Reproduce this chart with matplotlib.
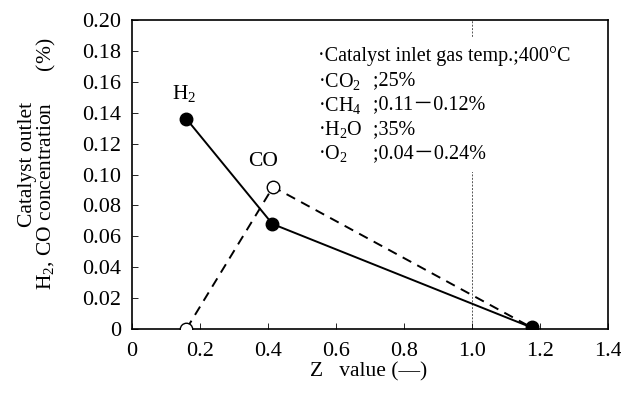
import matplotlib
matplotlib.use("Agg")
import matplotlib.pyplot as plt
from matplotlib.patches import Rectangle

plt.rcParams["font.family"] = ["Liberation Serif", "Noto Sans CJK JP"]
plt.rcParams["mathtext.fontset"] = "custom"
plt.rcParams["mathtext.rm"] = "Liberation Serif"
plt.rcParams["mathtext.it"] = "Liberation Serif:italic"

# Measured outlet concentrations vs. Z value
h2_z = [0.16, 0.413, 1.175]
h2_conc = [0.136, 0.068, 0.001]
co_z = [0.16, 0.415, 1.175]
co_conc = [0.0, 0.092, 0.001]

x_ticks = [0, 0.2, 0.4, 0.6, 0.8, 1.0, 1.2, 1.4]
x_tick_labels = ["0", "0.2", "0.4", "0.6", "0.8", "1.0", "1.2", "1.4"]
y_ticks = [0, 0.02, 0.04, 0.06, 0.08, 0.10, 0.12, 0.14, 0.16, 0.18, 0.20]
y_tick_labels = ["0", "0.02", "0.04", "0.06", "0.08", "0.10", "0.12",
                 "0.14", "0.16", "0.18", "0.20"]
z_reference = 1.0

cond_title = "\u00b7Catalyst inlet gas temp.;400°C"
cond_labels = ["\u00b7CO$_2$", "\u00b7CH$_4$", "\u00b7H$_2$O", "\u00b7O$_2$"]
cond_values = [";25%", ";0.11－0.12%", ";35%", ";0.04－0.24%"]

W, H = 621, 394
fig = plt.figure(figsize=(W / 100, H / 100), dpi=100)
ax = fig.add_axes([132 / W, 1 - 329 / H, (608 - 132) / W, (329 - 20) / H])

FS = 15.5
TFS = 16
BFS = 14.5

ax.axvline(z_reference, color="#555555", lw=0.7, ls=(0, (2, 1.5)), zorder=1)

ax.plot(co_z, co_conc, color="black", lw=1.4, ls=(0, (5, 3.5)), zorder=3)
ax.plot(h2_z, h2_conc, color="black", lw=1.4, zorder=3)
ax.plot(co_z[:2], co_conc[:2], ls="none", marker="o", ms=9,
        mfc="white", mec="black", mew=1.0, zorder=4)
ax.plot(h2_z, h2_conc, ls="none", marker="o", ms=9,
        mfc="black", mec="black", zorder=5)

ax.set_xlim(0, 1.4)
ax.set_ylim(0, 0.20)
ax.set_xticks(x_ticks)
ax.set_xticklabels(x_tick_labels)
ax.set_yticks(y_ticks)
ax.set_yticklabels(y_tick_labels)
ax.tick_params(direction="in", length=4, width=0.6, labelsize=TFS, pad=8,
               colors="black")
ax.tick_params(axis="x", pad=9)
for s in ax.spines.values():
    s.set_linewidth(1.2)


def fx(px):
    return px / W


def fy(py):
    return 1 - py / H


# series labels
fig.text(fx(184), fy(93), "H$_2$", fontsize=FS, ha="center", va="center")
fig.text(fx(263), fy(162), "CO", fontsize=FS, ha="center", va="center")

# conditions block (white backing hides the reference line behind it)
box = Rectangle(((312 - 132) / (608 - 132), (329 - 172) / 309),
                (590 - 312) / (608 - 132), (172 - 38) / 309,
                transform=ax.transAxes, facecolor="white", edgecolor="none",
                zorder=2)
ax.add_patch(box)

fig.text(fx(318), fy(56), cond_title, fontsize=BFS, va="center", ha="left")
line_y = [81, 105, 130, 154]
for yy, lab, val in zip(line_y, cond_labels, cond_values):
    fig.text(fx(318), fy(yy), lab, fontsize=BFS, va="center", ha="left")
    fig.text(fx(373), fy(yy), val, fontsize=BFS, va="center", ha="left")

# axis titles
fig.text(fx(369), fy(372), "Z   value (—)", fontsize=FS, ha="center",
         va="center")
fig.text(fx(38), fy(164),
         "Catalyst outlet\nH$_2$, CO concentration      (%)",
         fontsize=FS, rotation=90, ha="center", va="center",
         multialignment="center", linespacing=0.85)

fig.savefig("out.png", dpi=100)
